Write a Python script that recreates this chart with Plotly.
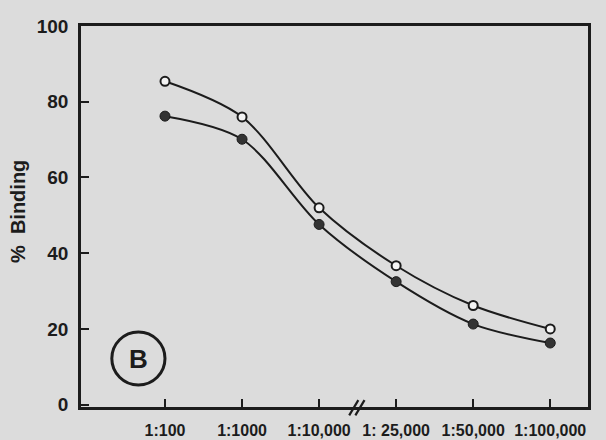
import plotly.graph_objects as go

# Serum dilutions on the x axis (equally spaced categories, axis broken after 1:10,000)
dilutions = ["1:100", "1:1000", "1:10,000", "1: 25,000", "1:50,000", "1:100,000"]
# Percent binding, open-circle series
binding_open = [85.4, 76.0, 52.0, 36.7, 26.2, 20.0]
# Percent binding, filled-circle series
binding_filled = [76.2, 70.1, 47.6, 32.5, 21.3, 16.3]
y_ticks = [0, 20, 40, 60, 80, 100]

INK = "#1c1c1c"
BG = "#dcdcdc"
FONT = "Liberation Sans"

W, H = 606, 440
M = dict(l=81, r=18, t=26, b=33)
x_range = [-1.09, 5.49]
y_range = [-0.6, 100]
x_idx = list(range(len(dilutions)))

fig = go.Figure()
fig.add_trace(go.Scatter(
    x=x_idx, y=binding_filled, mode="lines+markers",
    line=dict(color=INK, width=2, shape="spline", smoothing=0.9),
    marker=dict(size=10, color="#333333", line=dict(color=INK, width=1)),
    showlegend=False, hoverinfo="skip",
))
fig.add_trace(go.Scatter(
    x=x_idx, y=binding_open, mode="lines+markers",
    line=dict(color=INK, width=2, shape="spline", smoothing=0.9),
    marker=dict(size=9, color="#f4f4f4", line=dict(color=INK, width=2)),
    showlegend=False, hoverinfo="skip",
))

axis_common = dict(
    showline=True, linecolor=INK, linewidth=2.5, mirror=True,
    showgrid=False, zeroline=False, ticks="inside", ticklen=8,
    tickwidth=2, tickcolor=INK, automargin=False,
)

fig.update_xaxes(
    range=x_range, tickmode="array", tickvals=x_idx, ticktext=dilutions,
    tickangle=0, ticklabelstandoff=7,
    tickfont=dict(family=FONT, size=16, color=INK, weight="bold"),
    **axis_common,
)
fig.update_yaxes(
    range=y_range, tickmode="array", tickvals=y_ticks,
    ticklabelstandoff=6,
    tickfont=dict(family=FONT, size=19, color=INK, weight="bold"),
    **axis_common,
)

plot_w = W - M["l"] - M["r"]
plot_h = H - M["t"] - M["b"]


def xp(v):
    """Data x -> paper x."""
    return (v - x_range[0]) / (x_range[1] - x_range[0])


# Axis break marks "//" between 1:10,000 and 1:25,000
brk = 2.5
for dx in (-0.05, 0.03):
    fig.add_shape(
        type="line", xref="paper", yref="paper",
        x0=xp(brk + dx) - 0.009, y0=-0.022, x1=xp(brk + dx) + 0.009, y1=0.018,
        line=dict(color=INK, width=2.2),
    )

# Panel label: circled B
fig.add_shape(
    type="circle", xref="x", yref="y",
    x0=-0.69, x1=0.0, y0=5.2, y1=19.2,
    line=dict(color=INK, width=3),
)
fig.add_annotation(
    x=-0.345, y=12.2, xref="x", yref="y", text="<b>B</b>", showarrow=False,
    xanchor="center", yanchor="middle",
    font=dict(family=FONT, size=26, color=INK),
)

# Y axis title, positioned in pixels and converted to paper units
fig.add_annotation(
    x=(18 - M["l"]) / plot_w, y=(H - M["b"] - 212) / plot_h,
    xref="paper", yref="paper", text="<b>%  Binding</b>",
    showarrow=False, textangle=-90, xanchor="center", yanchor="middle",
    font=dict(family=FONT, size=20, color=INK),
)

fig.update_layout(
    width=W, height=H, margin=M,
    paper_bgcolor=BG, plot_bgcolor=BG,
)

fig.write_html("out.html")
